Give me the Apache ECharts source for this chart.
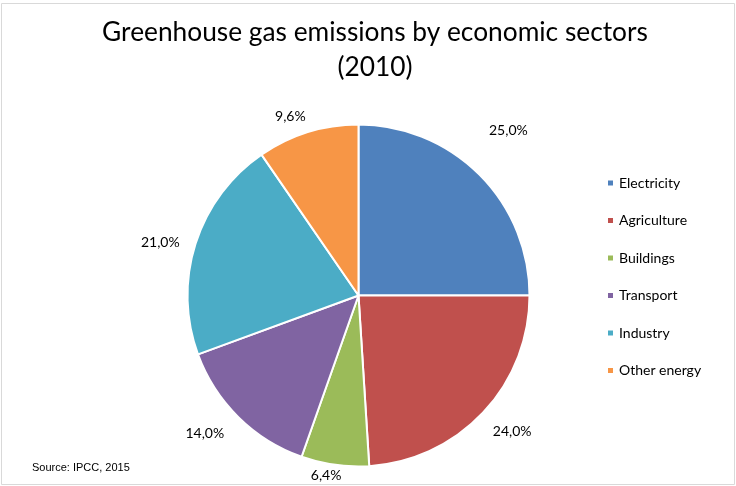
<!DOCTYPE html>
<html><head><meta charset="utf-8">
<script src="https://cdn.jsdelivr.net/npm/echarts@6/dist/echarts.min.js"></script>
<style>html,body{margin:0;padding:0;background:#fff}#c{width:736px;height:486px}</style>
</head><body><div id="c"></div>
<script>
const categories = ['Electricity','Agriculture','Buildings','Transport','Industry','Other energy'];
const values = [25.0, 24.0, 6.4, 14.0, 21.0, 9.6];
const colors = ['#4F81BD','#C0504D','#9BBB59','#8064A2','#4BACC6','#F79646'];
// per-slice label offsets (label line lengths, line hidden)
const labelLen = [63, 27, 11, 23, 3, 17];
const labelLen2 = [-40, -15, -13, -7, 8, -8];

const chart = echarts.init(document.getElementById('c'));
chart.setOption({
  animation: false,
  color: colors,
  title: {
    text: 'Greenhouse gas emissions by economic sectors\n(2010)',
    left: 370, top: 10, textAlign: 'center',
    textStyle: {fontFamily: 'Lato', fontSize: 26.3, fontWeight: 'normal', color: '#000', lineHeight: 35}
  },
  legend: {
    orient: 'vertical', left: 601, top: 171,
    itemWidth: 7, itemHeight: 7, itemGap: 23.5, icon: 'rect',
    textStyle: {fontFamily: 'Lato', fontSize: 14, color: '#000'},
    data: categories
  },
  graphic: [
    {type: 'rect', shape: {x: 1.5, y: 3.5, width: 733, height: 481}, style: {fill: 'none', stroke: '#d9d9d9', lineWidth: 1}, silent: true},
    {type: 'text', left: 32, top: 462, style: {text: 'Source: IPCC, 2015', font: '11px "Liberation Sans", Arial, sans-serif', fill: '#000'}}
  ],
  series: [{
    type: 'pie',
    center: [358.5, 295.5],
    radius: [0, 171],
    startAngle: 90,
    clockwise: true,
    avoidLabelOverlap: false,
    itemStyle: {borderColor: '#fff', borderWidth: 2},
    label: {show: true, position: 'outside', fontFamily: 'Lato', fontSize: 14, color: '#000',
      formatter: p => p.value.toFixed(1).replace('.', ',') + '%'},
    emphasis: {disabled: true},
    data: categories.map((n, i) => ({
      name: n, value: values[i],
      labelLine: {show: false, length: labelLen[i], length2: labelLen2[i]}
    }))
  }]
});
</script></body></html>
